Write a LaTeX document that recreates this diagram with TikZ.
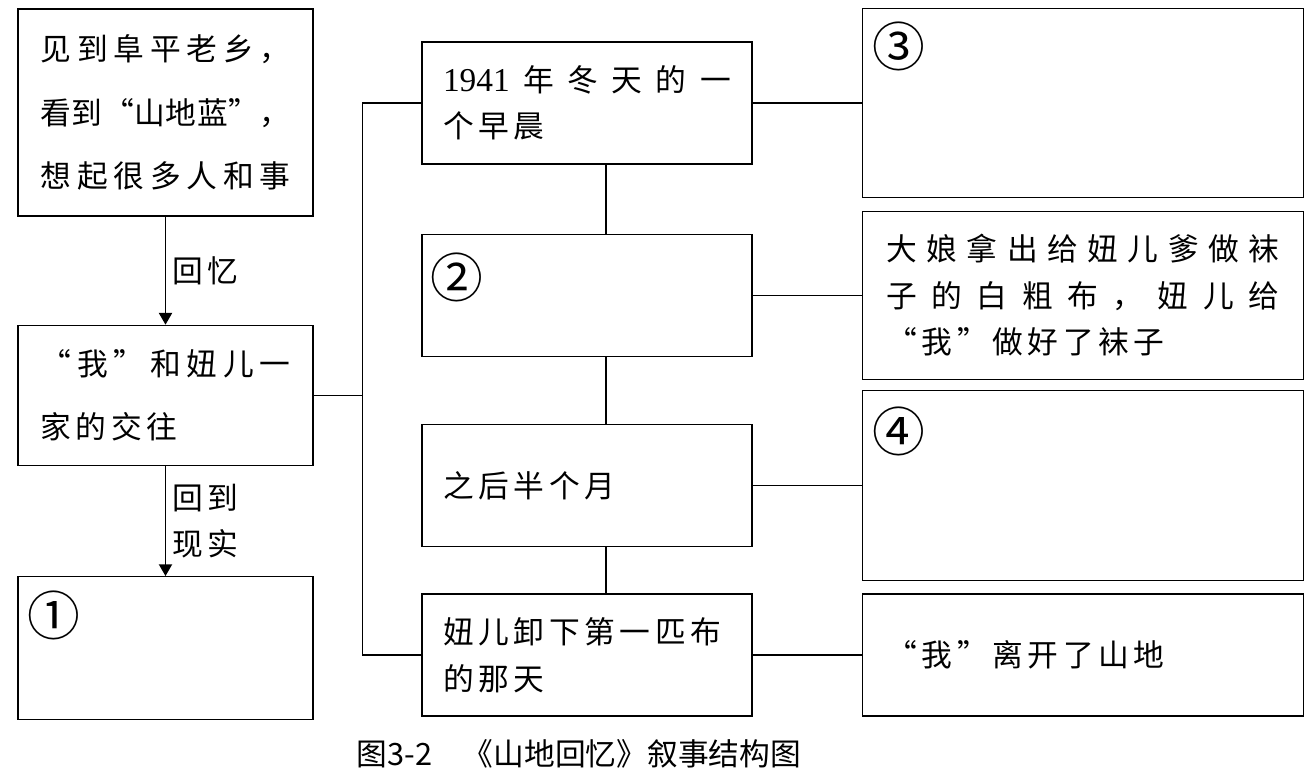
\documentclass[tikz,border=0pt]{standalone}
\usepackage{fontspec}
\setmainfont{Liberation Serif}
\newfontfamily\cjk[LetterSpace=15]{Noto Sans CJK SC}
\newfontfamily\cjkn{Noto Sans CJK SC}
\usetikzlibrary{positioning,arrows}
\makeatletter
\def\spreadline#1{\spr@ad#1\relax}
\def\spr@ad#1#2\relax{#1\ifx\relax#2\relax\else\hfill\spr@ad#2\relax\fi}
\makeatother
\tikzstyle{bx}=[draw, rectangle, thick, align=left]
\tikzstyle{lo}=[font=\cjk\fontsize{17.5}{36}\selectfont]
\tikzstyle{ti}=[font=\cjk\fontsize{17.5}{26.5}\selectfont]
\tikzstyle{nm}=[font=\cjkn\fontsize{30}{30}\selectfont, inner sep=0pt]
\tikzstyle{lb}=[font=\cjk\fontsize{17.5}{26.5}\selectfont, align=left]
\begin{document}
\begin{tikzpicture}[x=0.02cm, y=-0.02cm, thick, >=triangle 60]
	\useasboundingbox (0,0) rectangle (1316,777);
	% left column
	\node[bx, lo, minimum width=5.9cm, minimum height=4.14cm, text width=5cm] (A) at (165.5,112.5) {\spreadline{见到阜平老乡，}\\\spreadline{看到“山地蓝”，}\\\spreadline{想起很多人和事}};
	\node[bx, lo, minimum width=5.9cm, minimum height=2.8cm, text width=5cm] (B) [below=2.16cm of A] {\spreadline{“我”和妞儿一}\\家的交往};
	\node[bx, minimum width=5.9cm, minimum height=2.86cm] (C) [below=2.2cm of B] {};
	
	% middle column
	\node[bx, ti, minimum width=6.6cm, minimum height=2.44cm, text width=5.76cm] (D) at (587,103) {\spreadline{{{\rmfamily\fontsize{19}{26.5}\selectfont 1941}}年冬天的一}\\个早晨};
	\node[bx, minimum width=6.6cm, minimum height=2.44cm] (E) [below=1.38cm of D] {};
	\node[bx, ti, minimum width=6.6cm, minimum height=2.44cm, text width=5.76cm] (F) [below=1.34cm of E] {之后半个月};
	\node[bx, ti, minimum width=6.6cm, minimum height=2.44cm, text width=5.76cm] (G) [below=0.92cm of F] {妞儿卸下第一匹布\\的那天};
	
	% right column
	\node[bx, minimum width=8.82cm, minimum height=3.78cm] (H) [right=2.18cm of D] {};
	\node[bx, ti, minimum width=8.82cm, minimum height=3.36cm, text width=7.86cm] (I) [right=2.18cm of E] {\spreadline{大娘拿出给妞儿爹做袜}\\\spreadline{子的白粗布，妞儿给}\\“我”做好了袜子};
	\node[bx, minimum width=8.82cm, minimum height=3.8cm] (J) [right=2.18cm of F] {};
	\node[bx, ti, minimum width=8.82cm, minimum height=2.44cm, text width=7.86cm] (K) [right=2.18cm of G] {“我”离开了山地};
	
	% blanks
	\node[nm] (n1) at ([shift={(0.74cm,-0.78cm)}]C.north west) {①};
	\node[nm] (n2) at ([shift={(0.72cm,-0.88cm)}]E.north west) {②};
	\node[nm] (n3) at ([shift={(0.74cm,-0.78cm)}]H.north west) {③};
	\node[nm] (n4) at ([shift={(0.74cm,-0.82cm)}]J.north west) {④};
	
	\coordinate (tr) at ([xshift=0.98cm]B.east);
	\draw (A) edge[->] node[right, lb] {回忆} (B);
	\draw (B) edge[->] node[right, lb] {回到\\现实} (C);
	\draw (B.east) -- (tr);
	\draw (D.west) -| (tr) |- (G.west);
	\draw ([xshift=0.38cm]D.south) -- ([xshift=0.38cm]E.north);
	\draw ([xshift=0.38cm]E.south) -- ([xshift=0.38cm]F.north);
	\draw ([xshift=0.38cm]F.south) -- ([xshift=0.38cm]G.north);
	\draw (D) -- (H);
	\draw (E) -- (I);
	\draw (F) -- (J);
	\draw (G) -- (K);
	
	\node[font=\cjkn\fontsize{17.5}{20}\selectfont, anchor=base west] (cap) at (350,765) {图3-2\quad《山地回忆》叙事结构图};
\end{tikzpicture}
\end{document}
